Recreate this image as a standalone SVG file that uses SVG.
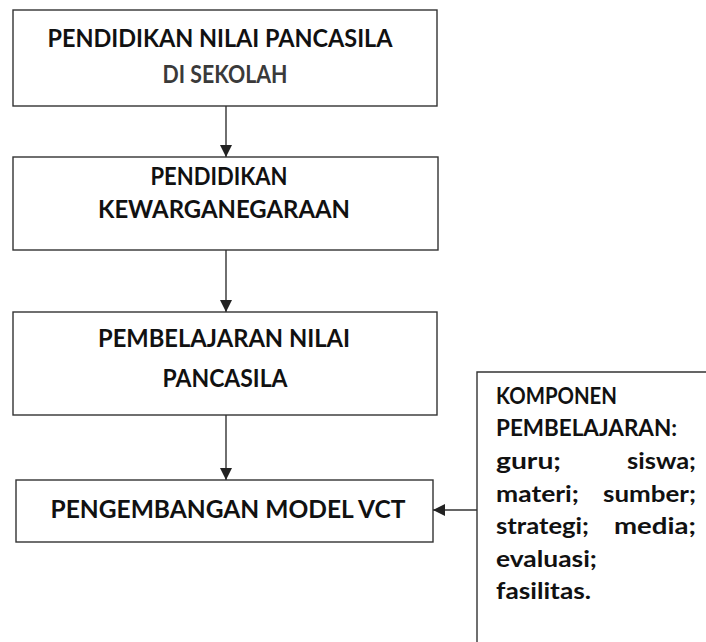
<svg xmlns="http://www.w3.org/2000/svg" width="706" height="642" viewBox="0 0 706 642">
<defs>
<style>
.box{fill:#fff;stroke:#333;stroke-width:1.4}
.t{font-family:Lato,"Open Sans","Liberation Sans",sans-serif;font-weight:700;font-size:24px;fill:#111;text-anchor:middle}
.s{font-family:Lato,"Open Sans","Liberation Sans",sans-serif;font-weight:700;font-size:22px;fill:#111}
.c{stroke:#333;stroke-width:1.4;fill:none}
</style>
<marker id="ah" viewBox="0 0 12 12" refX="12" refY="6" markerWidth="12" markerHeight="12" markerUnits="userSpaceOnUse" orient="auto">
<path d="M0,0 L12,6 L0,12 Z" fill="#222"/>
</marker>
</defs>
<rect width="706" height="642" fill="#fff"/>
<g id="node1">
<rect class="box" x="13" y="10" width="424" height="96"/>
<text class="t" x="220" y="47" textLength="345" lengthAdjust="spacingAndGlyphs">PENDIDIKAN NILAI PANCASILA</text>
<text class="t" x="225" y="83" textLength="125" lengthAdjust="spacingAndGlyphs" style="fill:#3a3a3a">DI SEKOLAH</text>
</g>
<g id="node2">
<rect class="box" x="13" y="157" width="425" height="93"/>
<text class="t" x="219" y="185" textLength="137" lengthAdjust="spacingAndGlyphs">PENDIDIKAN</text>
<text class="t" x="224" y="218" textLength="252" lengthAdjust="spacingAndGlyphs">KEWARGANEGARAAN</text>
</g>
<g id="node3">
<rect class="box" x="13" y="312" width="424" height="103"/>
<text class="t" x="224" y="347" textLength="252" lengthAdjust="spacingAndGlyphs">PEMBELAJARAN NILAI</text>
<text class="t" x="225" y="387" textLength="125" lengthAdjust="spacingAndGlyphs">PANCASILA</text>
</g>
<g id="node4">
<rect class="box" x="16" y="480" width="417" height="62"/>
<text class="t" x="228" y="518" textLength="355" lengthAdjust="spacingAndGlyphs">PENGEMBANGAN MODEL VCT</text>
</g>
<g id="node5">
<path class="c" d="M477,642 L477,372 L706,372"/>
<text class="s" x="496" y="404" textLength="121" lengthAdjust="spacingAndGlyphs">KOMPONEN</text>
<text class="s" x="496" y="436" textLength="181" lengthAdjust="spacingAndGlyphs">PEMBELAJARAN:</text>
<text class="s" x="496" y="469" textLength="65" lengthAdjust="spacingAndGlyphs">guru;</text>
<text class="s" x="627" y="469" textLength="69" lengthAdjust="spacingAndGlyphs">siswa;</text>
<text class="s" x="496" y="502" textLength="83" lengthAdjust="spacingAndGlyphs">materi;</text>
<text class="s" x="603" y="502" textLength="93" lengthAdjust="spacingAndGlyphs">sumber;</text>
<text class="s" x="496" y="534" textLength="93" lengthAdjust="spacingAndGlyphs">strategi;</text>
<text class="s" x="614" y="534" textLength="82" lengthAdjust="spacingAndGlyphs">media;</text>
<text class="s" x="496" y="567" textLength="101" lengthAdjust="spacingAndGlyphs">evaluasi;</text>
<text class="s" x="496" y="599" textLength="95" lengthAdjust="spacingAndGlyphs">fasilitas.</text>
</g>
<g id="connectors">
<line class="c" x1="226" y1="106" x2="226" y2="157" marker-end="url(#ah)"/>
<line class="c" x1="226" y1="250" x2="226" y2="312" marker-end="url(#ah)"/>
<line class="c" x1="226" y1="415" x2="226" y2="480" marker-end="url(#ah)"/>
<line class="c" x1="477" y1="510" x2="433" y2="510" marker-end="url(#ah)"/>
</g>
</svg>
